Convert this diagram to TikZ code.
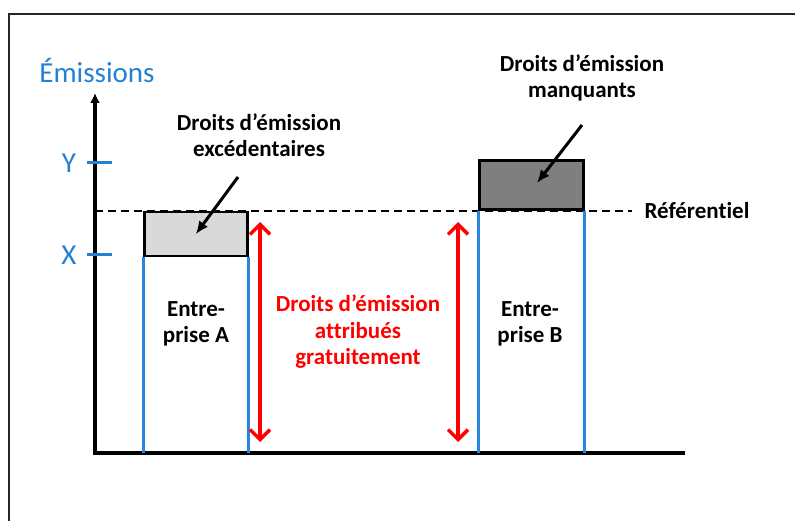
\documentclass[tikz,border=0pt]{standalone}
\usepackage{fontspec}
\setmainfont[Ligatures=NoCommon]{Carlito}
\usetikzlibrary{arrows.meta}

\definecolor{axisblue}{RGB}{36,128,210}
\definecolor{lineblue}{RGB}{40,135,220}
\definecolor{giftred}{RGB}{255,0,0}
\definecolor{lightbox}{RGB}{217,217,217}
\definecolor{darkbox}{RGB}{127,127,127}

\begin{document}
\begin{tikzpicture}[x=1pt,y=-1pt,
    lbl/.style={font=\fontsize{23}{26.5}\selectfont\bfseries,align=center},
    axislbl/.style={font=\fontsize{29}{32}\selectfont,text=axisblue},
    axis/.style={line width=3.5pt,line cap=rect},
    tick/.style={line width=3pt,draw=axisblue},
    refline/.style={line width=2.5pt,dashed,dash pattern=on 8pt off 5pt},
    box/.style={draw,line width=2.5pt,inner sep=0pt},
    firm/.style={line width=3pt,draw=lineblue},
    gift/.style={line width=3.5pt,draw=giftred,
      {Straight Barb[length=10pt,width=20pt]}-{Straight Barb[length=10pt,width=20pt]}},
    ptr/.style={line width=3pt,-{Latex[length=13pt,width=11pt]}}]

  \useasboundingbox (0,0) rectangle (795,521);
  % frame of the slide
  \draw[line width=2pt,draw=black!85] (9,521) -- (9,14) -- (795,14);

  % axes
  \coordinate (O) at (95,453);
  \coordinate (ytop) at (95,93);
  \coordinate (xend) at (683,453);
  \draw[axis,{Latex[length=10pt,width=10pt]}-] (ytop) -- (O) -- (xend);
  \node[axislbl] (emis) at (97,71) {Émissions};

  \foreach \name/\ypos in {Y/163, X/255} {
    \node[axislbl] (\name) at (69,\ypos) {\name};
    \draw[tick] (87,\ypos) -- (112,\ypos);
  }

  % referentiel
  \node[lbl,anchor=west] (ref) at (641,211) {Référentiel};
  \draw[refline] (95,211) -- (ref.west) [shorten >=9pt];

  % companies
  \node[box,fill=lightbox,minimum width=103,minimum height=44,anchor=north west] (boxA) at (143,211) {};
  \node[box,fill=darkbox,minimum width=104,minimum height=49,anchor=south west] (boxB) at (478,211) {};

  \draw[firm] (boxA.south west) -- (boxA.south west |- O);
  \draw[firm] (boxA.south east) -- (boxA.south east |- O);
  \draw[firm] (boxB.south west) -- (boxB.south west |- O);
  \draw[firm] (boxB.south east) -- (boxB.south east |- O);

  \node[lbl] (entA) at (196,324) {Entre-\\prise A};
  \node[lbl] (entB) at (530,324) {Entre-\\prise B};

  % free allowances
  \coordinate (gA1) at (260,222);
  \coordinate (gA2) at (260,442);
  \coordinate (gB1) at (458,222);
  \coordinate (gB2) at (458,442);
  \draw[gift] (gA1) -- (gA2);
  \draw[gift] (gB1) -- (gB2);
  \node[lbl,text=giftred] (gift) at (358,332) {Droits d’émission\\attribués\\gratuitement};

  % surplus and shortfall
  \node[lbl] (excA) at (259,135) {Droits d’émission\\excédentaires};
  \node[lbl] (mqB) at (582,78) {Droits d’émission\\manquants};
  \coordinate (tailA) at (238,177);
  \coordinate (tailB) at (582,125);
  \coordinate (tipB) at (537,183);
  \draw[ptr] (tailA) -- (boxA.center);
  \draw[ptr] (tailB) -- (tipB);

\end{tikzpicture}
\end{document}
